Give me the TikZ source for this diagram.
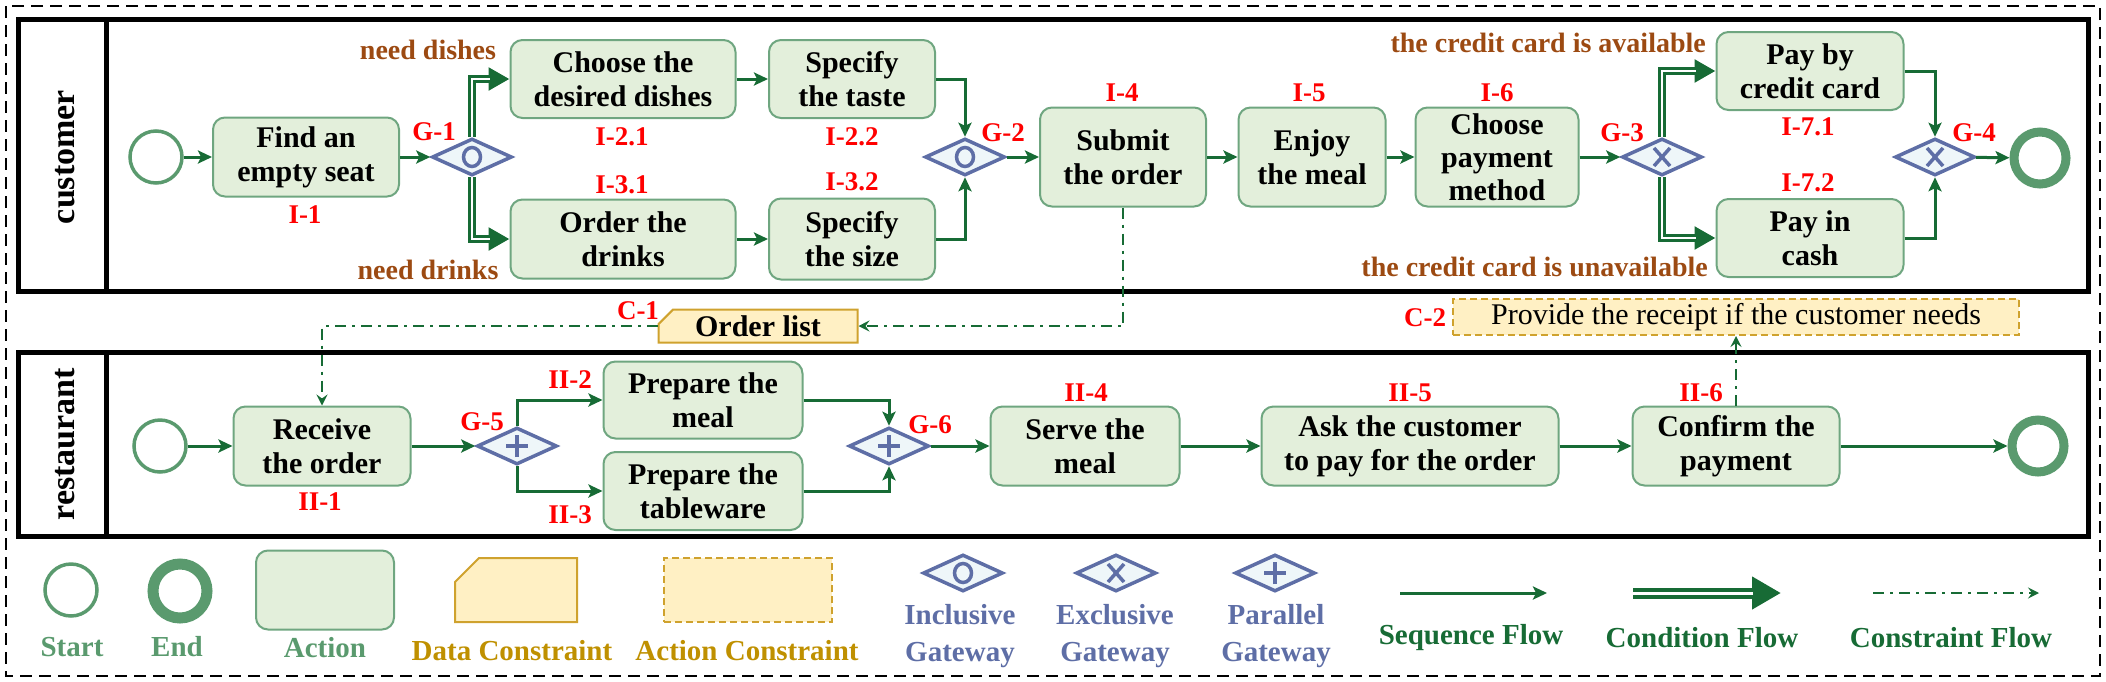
\documentclass[tikz,border=0pt]{standalone}
\usepackage{fontspec}
\setmainfont{Liberation Serif}
\usetikzlibrary{arrows.meta,shapes.geometric,shapes.misc}

\definecolor{flowgreen}{HTML}{176B35}
\definecolor{eventgreen}{HTML}{5A9A6E}
\definecolor{actfill}{HTML}{E3EFDB}
\definecolor{actdraw}{HTML}{6FA680}
\definecolor{gwblue}{HTML}{5E6EA6}
\definecolor{gwfill}{HTML}{EEF6F9}
\definecolor{condbrown}{HTML}{9C4A12}
\definecolor{datafill}{HTML}{FFF0C4}
\definecolor{datadraw}{HTML}{CFA22E}
\definecolor{goldtext}{HTML}{BF9000}
\definecolor{idred}{HTML}{FF0000}

\newcommand{\boxfont}{\fontsize{30}{34}\selectfont\bfseries}
\newcommand{\idfont}{\fontsize{27}{30}\selectfont\bfseries}
\newcommand{\legfont}{\fontsize{29}{37}\selectfont\bfseries}

\tikzset{
  action/.style={draw=actdraw, fill=actfill, line width=2pt, rounded corners=12pt, align=center, font=\boxfont, inner sep=1pt},
  startev/.style={circle, draw=eventgreen, line width=3.5pt, minimum size=52pt, inner sep=0pt},
  endev/.style={circle, draw=eventgreen, line width=9pt, minimum size=52pt, inner sep=0pt},
  gateway/.style={diamond, draw=gwblue, fill=gwfill, line width=3.5pt, minimum width=80pt, minimum height=37pt, inner sep=0pt},
  gwinc/.style={gateway, path picture={\draw[gwblue, line width=3.5pt] (path picture bounding box.center) ellipse (8.5pt and 9.5pt);}},
  gwexc/.style={gateway, path picture={\draw[gwblue, line width=3.5pt] (path picture bounding box.center) ++(-8pt,-9pt) -- ++(16pt,18pt) ++(-16pt,0pt) -- ++(16pt,-18pt);}},
  gwpar/.style={gateway, path picture={\draw[gwblue, line width=3.5pt] (path picture bounding box.center) ++(-11pt,0pt) -- ++(22pt,0pt) ++(-11pt,-11pt) -- ++(0pt,22pt);}},
  datacons/.style={chamfered rectangle, chamfered rectangle corners=north west, chamfered rectangle xsep=13pt, draw=datadraw, fill=datafill, line width=2pt, font=\boxfont, inner sep=1pt},
  actcons/.style={draw=datadraw, fill=datafill, line width=2pt, dash pattern=on 7pt off 4pt, font=\fontsize{30}{34}\selectfont, inner sep=1pt},
  seqflow/.style={draw=flowgreen, line width=3pt, -{Stealth[length=14pt, width=13pt, inset=3pt]}},
  consflow/.style={draw=flowgreen, line width=2.5pt, dash pattern=on 11pt off 6pt on 3pt off 6pt, -{Stealth[length=11pt, width=11pt, inset=4pt]}},
  condflow/.style={draw=white, line width=2.5pt, shorten >=20pt, preaction={draw=flowgreen, line width=8pt, shorten >=0pt, -{Triangle[length=21pt, width=22pt]}}},
  legcond/.style={draw=white, line width=3pt, shorten >=28pt, preaction={draw=flowgreen, line width=11pt, shorten >=0pt, -{Triangle[length=29pt, width=31pt]}}},
  lane/.style={draw=black, line width=5pt},
  lanelabel/.style={rotate=90, font=\fontsize{34}{36}\selectfont\bfseries},
  idlabel/.style={text=idred, font=\idfont, inner sep=0pt},
  condlabel/.style={text=condbrown, font=\fontsize{28}{30}\selectfont\bfseries, inner sep=0pt},
  legtext/.style={font=\legfont, align=center, inner sep=0pt}
}

\begin{document}
\begin{tikzpicture}[x=1pt, y=-1pt]
  \useasboundingbox (0,0) rectangle (2106,681);
  \draw[line width=2pt, dash pattern=on 12pt off 7pt] (6,6) rectangle (2100,676);

  % customer lane
  \draw[lane] (18,19) rectangle (2088,291);
  \draw[lane] (106,19) -- (106,291);
  \node[lanelabel] (custlabel) at (65,157) {customer};

  \node[startev] (cstart) at (156,157) {};
  \node[action, minimum width=186pt, minimum height=79pt] (findseat) at (306,157) {Find an\\empty seat};
  \node[gwinc] (g1) at (472,157) {};
  \node[action, minimum width=225pt, minimum height=78pt] (choosedish) at (623,79) {Choose the\\desired dishes};
  \node[action, minimum width=225pt, minimum height=79pt] (orderdrink) at (623,239) {Order the\\drinks};
  \node[action, minimum width=166pt, minimum height=78pt] (taste) at (852,79) {Specify\\the taste};
  \node[action, minimum width=166pt, minimum height=81pt] (size) at (852,239) {Specify\\the size};
  \node[gwinc] (g2) at (965,157) {};
  \node[action, minimum width=166pt, minimum height=99pt] (submit) at (1123,157) {Submit\\the order};
  \node[action, minimum width=147pt, minimum height=99pt] (enjoy) at (1312,157) {Enjoy\\the meal};
  \node[action, minimum width=163pt, minimum height=99pt, font=\fontsize{30}{33}\selectfont\bfseries] (choosepay) at (1497,157) {Choose\\payment\\method};
  \node[gwexc] (g3) at (1662,157) {};
  \node[action, minimum width=187pt, minimum height=78pt] (paycredit) at (1810,71) {Pay by\\credit card};
  \node[action, minimum width=187pt, minimum height=78pt] (paycash) at (1810,238) {Pay in\\cash};
  \node[gwexc] (g4) at (1935,157) {};
  \node[endev] (cend) at (2040,158) {};

  \draw[seqflow] (cstart) -- (findseat);
  \draw[seqflow] (findseat) -- (g1);
  \draw[condflow] (g1.north) |- (choosedish.west);
  \draw[condflow] (g1.south) |- (orderdrink.west);
  \draw[seqflow] (choosedish) -- (taste);
  \draw[seqflow] (orderdrink) -- (size);
  \draw[seqflow] (taste.east) -| (g2.north);
  \draw[seqflow] (size.east) -| (g2.south);
  \draw[seqflow] (g2) -- (submit);
  \draw[seqflow] (submit) -- (enjoy);
  \draw[seqflow] (enjoy) -- (choosepay);
  \draw[seqflow] (choosepay) -- (g3);
  \draw[condflow] (g3.north) |- (paycredit.west);
  \draw[condflow] (g3.south) |- (paycash.west);
  \draw[seqflow] (paycredit.east) -| (g4.north);
  \draw[seqflow] (paycash.east) -| (g4.south);
  \draw[seqflow] (g4) -- (cend);

  \node[condlabel] (needdish) at (428,50) {need dishes};
  \node[condlabel] (needdrink) at (428,270) {need drinks};
  \node[condlabel, anchor=east] (cardyes) at (1706,43) {the credit card is available};
  \node[condlabel, anchor=east] (cardno) at (1708,267) {the credit card is unavailable};

  \node[idlabel] (idI1) at (305,215) {I-1};
  \node[idlabel] (idG1) at (434,132) {G-1};
  \node[idlabel] (idI21) at (622,137) {I-2.1};
  \node[idlabel] (idI31) at (622,185) {I-3.1};
  \node[idlabel] (idI22) at (852,137) {I-2.2};
  \node[idlabel] (idI32) at (852,182) {I-3.2};
  \node[idlabel] (idG2) at (1003,133) {G-2};
  \node[idlabel] (idI4) at (1122,93) {I-4};
  \node[idlabel] (idI5) at (1309,93) {I-5};
  \node[idlabel] (idI6) at (1497,93) {I-6};
  \node[idlabel] (idG3) at (1622,133) {G-3};
  \node[idlabel] (idI71) at (1808,127) {I-7.1};
  \node[idlabel] (idI72) at (1808,183) {I-7.2};
  \node[idlabel] (idG4) at (1974,133) {G-4};

  % constraints between lanes
  \node[datacons, minimum width=199pt, minimum height=33pt] (orderlist) at (758,326) {Order list};
  \node[actcons, minimum width=566pt, minimum height=36pt] (receipt) at (1736,317) {Provide the receipt if the customer needs};
  \node[idlabel] (idC1) at (638,311) {C-1};
  \node[idlabel] (idC2) at (1425,318) {C-2};

  % restaurant lane
  \draw[lane] (18,352) rectangle (2088,536);
  \draw[lane] (106,352) -- (106,536);
  \node[lanelabel] (restlabel) at (65,444) {restaurant};

  \node[startev] (rstart) at (160,446) {};
  \node[action, minimum width=177pt, minimum height=79pt] (receive) at (322,446) {Receive\\the order};
  \node[gwpar] (g5) at (517,446) {};
  \node[action, minimum width=199pt, minimum height=77pt] (prepmeal) at (703,400) {Prepare the\\meal};
  \node[action, minimum width=199pt, minimum height=78pt] (prepware) at (703,491) {Prepare the\\tableware};
  \node[gwpar] (g6) at (889,446) {};
  \node[action, minimum width=189pt, minimum height=79pt] (serve) at (1085,446) {Serve the\\meal};
  \node[action, minimum width=297pt, minimum height=79pt] (askpay) at (1410,446) {Ask the customer\\to pay for the order};
  \node[action, minimum width=207pt, minimum height=79pt] (confirm) at (1736,446) {Confirm the\\payment};
  \node[endev] (rend) at (2038,446) {};

  \draw[seqflow] (rstart) -- (receive);
  \draw[seqflow] (receive) -- (g5);
  \draw[seqflow] (g5.north) |- (prepmeal.west);
  \draw[seqflow] (g5.south) |- (prepware.west);
  \draw[seqflow] (prepmeal.east) -| (g6.north);
  \draw[seqflow] (prepware.east) -| (g6.south);
  \draw[seqflow] (g6) -- (serve);
  \draw[seqflow] (serve) -- (askpay);
  \draw[seqflow] (askpay) -- (confirm);
  \draw[seqflow] (confirm) -- (rend);

  \node[idlabel] (idII1) at (320,502) {II-1};
  \node[idlabel] (idG5) at (482,422) {G-5};
  \node[idlabel] (idII2) at (570,380) {II-2};
  \node[idlabel] (idII3) at (570,515) {II-3};
  \node[idlabel] (idG6) at (930,425) {G-6};
  \node[idlabel] (idII4) at (1086,393) {II-4};
  \node[idlabel] (idII5) at (1410,393) {II-5};
  \node[idlabel] (idII6) at (1701,393) {II-6};

  \draw[consflow] (submit.south) |- (orderlist.east);
  \draw[consflow] (orderlist.west) -| (receive.north);
  \draw[consflow] (confirm.north) -- (receipt.south);

  % legend
  \node[startev] (legstart) at (71,590) {};
  \node[endev, line width=11pt, minimum size=54pt] (legfinish) at (180,591) {};
  \node[action, minimum width=138pt, minimum height=79pt] (legaction) at (325,590) {};
  \filldraw[fill=datafill, draw=datadraw, line width=2pt] (455,622) -- (455,582) -- (479,558) -- (577,558) -- (577,622) -- cycle;
  \node[actcons, minimum width=168pt, minimum height=64pt] (legactcons) at (748,590) {};
  \node[gwinc] (leginc) at (963,573) {};
  \node[gwexc] (legexc) at (1116,573) {};
  \node[gwpar] (legpar) at (1275,573) {};
  \coordinate (seqa) at (1400,593);
  \coordinate (seqb) at (1547,593);
  \coordinate (conda) at (1633,593);
  \coordinate (condb) at (1781,593);
  \coordinate (consa) at (1873,593);
  \coordinate (consb) at (2039,593);
  \draw[seqflow] (seqa) -- (seqb);
  \draw[legcond] (conda) -- (condb);
  \draw[consflow] (consa) -- (consb);

  \node[legtext, text=eventgreen] (txtstart) at (72,647) {Start};
  \node[legtext, text=eventgreen] (txtend) at (177,647) {End};
  \node[legtext, text=eventgreen] (txtaction) at (325,648) {Action};
  \node[legtext, text=goldtext] (txtdata) at (512,651) {Data Constraint};
  \node[legtext, text=goldtext] (txtactcons) at (747,651) {Action Constraint};
  \node[legtext, text=gwblue] (txtinc) at (960,636) {Inclusive\\Gateway};
  \node[legtext, text=gwblue] (txtexc) at (1115,636) {Exclusive\\Gateway};
  \node[legtext, text=gwblue] (txtpar) at (1276,636) {Parallel\\Gateway};
  \node[legtext, text=flowgreen] (txtseq) at (1471,638) {Sequence Flow};
  \node[legtext, text=flowgreen] (txtcond) at (1702,638) {Condition Flow};
  \node[legtext, text=flowgreen] (txtcons) at (1951,638) {Constraint Flow};
\end{tikzpicture}
\end{document}
